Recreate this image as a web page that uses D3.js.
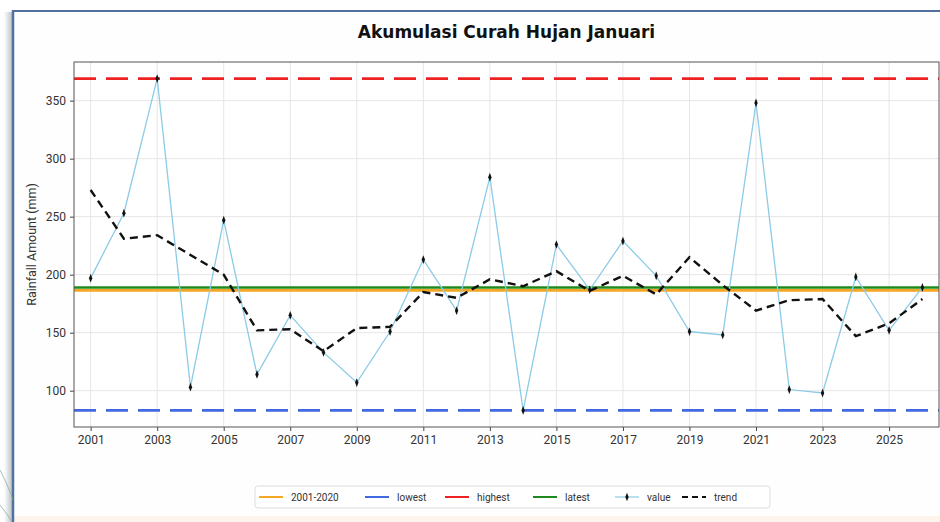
<!DOCTYPE html>
<meta charset="utf-8">
<style>
  body { margin: 0; background: #fff; }
  text { font-family: Roboto, "Open Sans", sans-serif; fill: #333; }
</style>
<body>
  <script src="https://cdn.jsdelivr.net/npm/d3@7"></script>
  <script>
    // data
    var years = d3.range(2001, 2027);
    var values = [197, 253, 369, 103, 247, 114, 165, 133, 107, 151, 213, 169, 284, 83,
      226, 187, 229, 199, 151, 148, 348, 101, 98, 198, 152, 189];
    var trend = [273, 231, 234, 217, 200, 152, 153, 134, 154, 155, 185, 180, 196, 190,
      203, 186, 199, 183, 215, 191, 169, 178, 179, 147, 158, 179];
    var baseline = 186.5; // 2001-2020
    var lowest = 83, highest = 369, latest = 189;
    var yTicks = [100, 150, 200, 250, 300, 350];
    var xTicks = [2001, 2003, 2005, 2007, 2009, 2011, 2013, 2015, 2017, 2019, 2021, 2023, 2025];
    var legendItems = [
      { label: "2001-2020", color: "#f5a623", type: "line" },
      { label: "lowest", color: "#4169e1", type: "line" },
      { label: "highest", color: "#ee2222", type: "line" },
      { label: "latest", color: "#1e8a1e", type: "line" },
      { label: "value", color: "#8ccbe6", type: "marker" },
      { label: "trend", color: "#111", type: "dash" }
    ];

    var W = 940, H = 522;
    var margin = { top: 62, right: 1, bottom: 95, left: 74 },
      width = W - margin.left - margin.right,
      height = H - margin.top - margin.bottom;

    var svg = d3.select("body").append("svg")
      .attr("width", W)
      .attr("height", H);

    // page frame
    var defs = svg.append("defs");
    var grad = defs.append("linearGradient").attr("id", "shadow");
    grad.append("stop").attr("offset", "0%").attr("stop-color", "#fff");
    grad.append("stop").attr("offset", "100%").attr("stop-color", "#b8bcc4");
    svg.append("rect").attr("x", 4).attr("y", 12).attr("width", 9).attr("height", H)
      .attr("fill", "url(#shadow)");
    svg.append("rect").attr("x", 13).attr("y", 11).attr("width", W).attr("height", H)
      .attr("fill", "#fefefe");
    svg.append("rect").attr("x", 14).attr("y", 516).attr("width", W).attr("height", 6)
      .attr("fill", "#fdf5ec");
    svg.append("line").attr("x1", 13).attr("x2", W).attr("y1", 11).attr("y2", 11)
      .attr("stroke", "#4f72a0").attr("stroke-width", 2);
    svg.append("line").attr("x1", 13).attr("x2", 13).attr("y1", 10).attr("y2", H)
      .attr("stroke", "#4f72a0").attr("stroke-width", 2.5);
    svg.append("path").attr("d", "M0,470 Q10,490 13,500 M0,505 Q8,515 12,522")
      .attr("fill", "none").attr("stroke", "#7aa890").attr("stroke-width", 0.7);

    // title
    svg.append("text")
      .attr("x", margin.left + width / 2)
      .attr("y", 38)
      .attr("text-anchor", "middle")
      .style("font-family", "'DejaVu Sans', sans-serif")
      .style("font-weight", "bold")
      .style("font-size", "17px")
      .style("fill", "#111")
      .text("Akumulasi Curah Hujan Januari");

    var g = svg.append("g")
      .attr("transform", "translate(" + margin.left + "," + margin.top + ")");

    var x = d3.scaleLinear().domain([2000.5, 2026.5]).range([0, width]),
      y = d3.scaleLinear().domain([68.7, 383.3]).range([height, 0]);

    g.append("rect").attr("width", width).attr("height", height).attr("fill", "#fff");

    // grid
    g.append("g").selectAll("line").data(xTicks).enter().append("line")
      .attr("x1", function(d) { return x(d); })
      .attr("x2", function(d) { return x(d); })
      .attr("y1", 0).attr("y2", height)
      .attr("stroke", "#e6e6e6").attr("stroke-width", 1);
    g.append("g").selectAll("line").data(yTicks).enter().append("line")
      .attr("y1", function(d) { return y(d); })
      .attr("y2", function(d) { return y(d); })
      .attr("x1", 0).attr("x2", width)
      .attr("stroke", "#e6e6e6").attr("stroke-width", 1);

    // reference lines
    function hline(v, color, dash) {
      g.append("line")
        .attr("x1", 0).attr("x2", width)
        .attr("y1", y(v)).attr("y2", y(v))
        .attr("stroke", color).attr("stroke-width", 2.6)
        .attr("stroke-dasharray", dash || null);
    }
    hline(baseline, "#f5a623");
    hline(lowest, "#4169e1", "22,10");
    hline(highest, "#ee2222", "22,10");
    hline(latest, "#1e8a1e");

    var line = d3.line()
      .x(function(d, i) { return x(years[i]); })
      .y(function(d) { return y(d); });

    g.append("path").datum(values)
      .attr("d", line)
      .attr("fill", "none")
      .attr("stroke", "#8ccbe6")
      .attr("stroke-width", 1.3);

    g.append("path").datum(trend)
      .attr("d", line)
      .attr("fill", "none")
      .attr("stroke", "#111")
      .attr("stroke-width", 2.4)
      .attr("stroke-dasharray", "8,5");

    var diamond = d3.symbol().type(d3.symbolDiamond).size(20);
    g.selectAll(".pt").data(values).enter().append("path")
      .attr("class", "pt")
      .attr("d", diamond)
      .attr("transform", function(d, i) {
        return "translate(" + x(years[i]) + "," + y(d) + ") scale(0.7,1.05)";
      })
      .attr("fill", "#111");

    // axes
    var xAxis = g.append("g")
      .attr("transform", "translate(0," + height + ")")
      .call(d3.axisBottom(x).tickValues(xTicks).tickFormat(d3.format("d")).tickSize(4).tickPadding(4));
    var yAxis = g.append("g")
      .call(d3.axisLeft(y).tickValues(yTicks).tickSize(4).tickPadding(4));
    [xAxis, yAxis].forEach(function(a) {
      a.select(".domain").remove();
      a.selectAll("line").attr("stroke", "#444");
      a.selectAll("text").style("font-size", "12px").style("fill", "#333")
        .style("font-family", "Roboto, sans-serif");
    });

    g.append("rect").attr("width", width).attr("height", height)
      .attr("fill", "none").attr("stroke", "#555").attr("stroke-width", 1);

    svg.append("text")
      .attr("transform", "translate(36," + (margin.top + height / 2) + ") rotate(-90)")
      .attr("text-anchor", "middle")
      .style("font-size", "12.5px")
      .text("Rainfall Amount (mm)");

    // legend
    var lg = svg.append("g").attr("transform", "translate(255,486)");
    lg.append("rect").attr("width", 515).attr("height", 22).attr("rx", 3)
      .attr("fill", "#fff").attr("stroke", "#ddd");
    var lx = [4, 110, 190, 278, 360, 427];
    legendItems.forEach(function(d, i) {
      var it = lg.append("g").attr("transform", "translate(" + lx[i] + ",11)");
      it.append("line").attr("x1", 0).attr("x2", 24)
        .attr("stroke", d.color)
        .attr("stroke-width", d.type === "marker" ? 1.2 : 2)
        .attr("stroke-dasharray", d.type === "dash" ? "6,4" : null);
      if (d.type === "marker") {
        it.append("path").attr("d", diamond)
          .attr("transform", "translate(12,0) scale(0.7,1.05)")
          .attr("fill", "#111");
      }
      it.append("text").attr("x", 32).attr("dy", "0.35em")
        .style("font-size", "10px").style("fill", "#333").text(d.label);
    });
  </script>
</body>
</html>
